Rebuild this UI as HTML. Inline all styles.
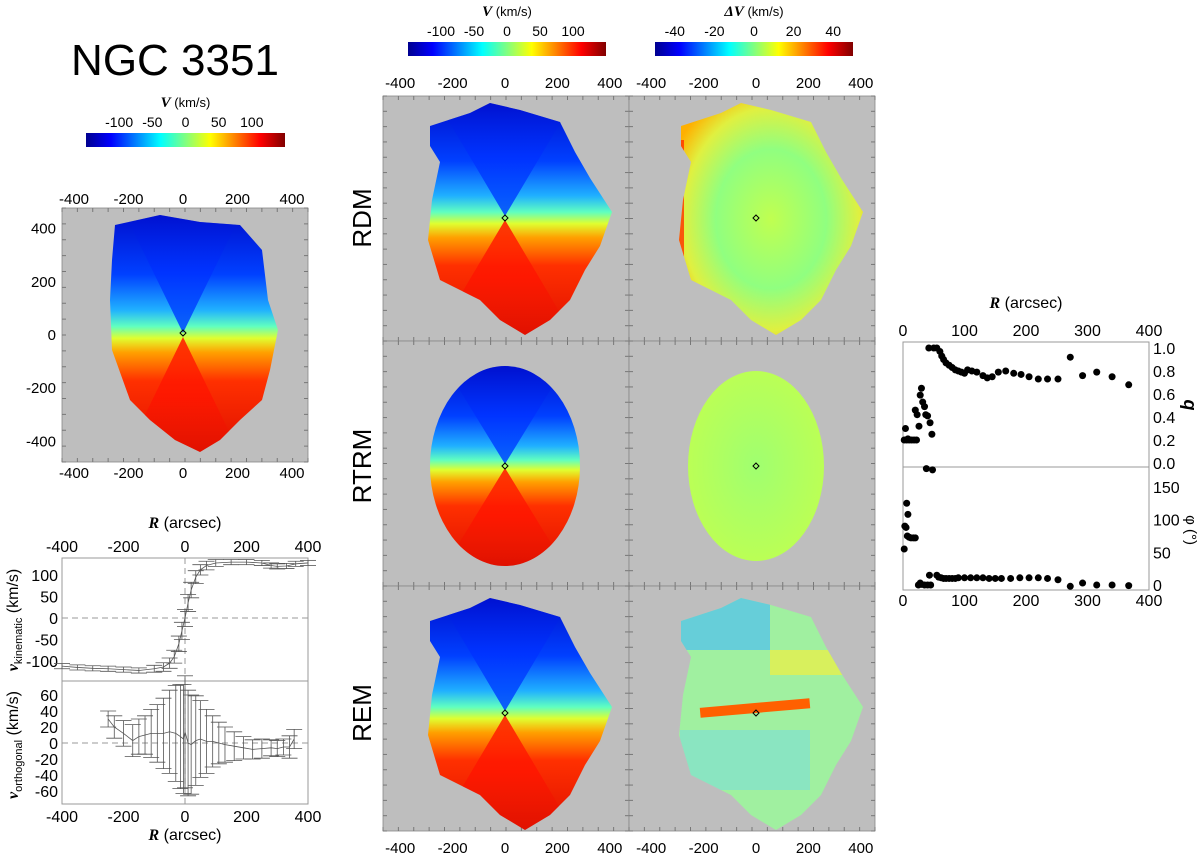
<!DOCTYPE html>
<html><head><meta charset="utf-8"><style>
body{margin:0;background:#fff;font-family:"Liberation Sans",sans-serif}
svg text{font-family:"Liberation Sans",sans-serif}
</style></head><body>
<svg id="s" width="1200" height="863" xmlns="http://www.w3.org/2000/svg">
<defs>
<linearGradient id="jet" x1="0" x2="1" y1="0" y2="0">
<stop offset="0" stop-color="#00008f"/><stop offset="0.125" stop-color="#0000ff"/><stop offset="0.375" stop-color="#00ffff"/><stop offset="0.5" stop-color="#80ff80"/><stop offset="0.625" stop-color="#ffff00"/><stop offset="0.875" stop-color="#ff0000"/><stop offset="1" stop-color="#800000"/>
</linearGradient>
<linearGradient id="vel" x1="0" x2="0" y1="0" y2="1">
<stop offset="0" stop-color="#0010d0"/><stop offset="0.25" stop-color="#0040ff"/><stop offset="0.4" stop-color="#20b0ff"/><stop offset="0.47" stop-color="#60ffc0"/><stop offset="0.52" stop-color="#e0ff30"/><stop offset="0.58" stop-color="#ffa000"/><stop offset="0.7" stop-color="#ff3000"/><stop offset="1" stop-color="#e01000"/>
</linearGradient>
<linearGradient id="blueT" x1="0" x2="0" y1="1" y2="0">
<stop offset="0" stop-color="#0050ff" stop-opacity="0.9"/><stop offset="0.5" stop-color="#0030ff" stop-opacity="0.8"/><stop offset="1" stop-color="#0010d0" stop-opacity="0.3"/>
</linearGradient>
<linearGradient id="redT" x1="0" x2="0" y1="0" y2="1">
<stop offset="0" stop-color="#ff2000" stop-opacity="0.9"/><stop offset="0.5" stop-color="#ff1000" stop-opacity="0.7"/><stop offset="1" stop-color="#e01000" stop-opacity="0.2"/>
</linearGradient>
<radialGradient id="res" cx="0.5" cy="0.5" r="0.6">
<stop offset="0" stop-color="#c0ff50"/><stop offset="0.5" stop-color="#90ff80"/><stop offset="0.8" stop-color="#e0f040"/><stop offset="1" stop-color="#ffb000"/>
</radialGradient>
<radialGradient id="res2" cx="0.5" cy="0.5" r="0.6">
<stop offset="0" stop-color="#a0ff70"/><stop offset="1" stop-color="#c0ff50"/>
</radialGradient>
</defs>
<text x="175" y="75" font-size="44" text-anchor="middle">NGC 3351</text>
<g id="maps"></g>
<g id="prof"></g>
<g id="qphi"></g>
</svg>
<script>
const S=document.getElementById('s');const NS='http://www.w3.org/2000/svg';
function el(t,a,p){const e=document.createElementNS(NS,t);for(const k in a)e.setAttribute(k,a[k]);(p||S).appendChild(e);return e;}
function tx(x,y,s,sz,anc,p){const e=el('text',{x:x,y:y,'font-size':sz||15,'text-anchor':anc||'middle'},p);e.textContent=s;return e;}

// ---------- data ----------
const vkinR=[-400,-350,-300,-250,-200,-150,-100,-70,-50,-35,-20,-10,0,10,20,35,50,70,100,150,200,250,280,300,330,360,400];
const vkinV=[-112,-115,-117,-118,-120,-122,-118,-114,-105,-90,-60,-30,0,35,65,95,112,122,128,130,130,128,122,120,121,126,128];
const vkinE=[6,6,6,6,6,6,8,10,12,15,18,20,20,20,18,15,12,10,8,6,6,6,6,6,6,6,6];
const vorR=[-250,-230,-200,-170,-150,-130,-110,-90,-70,-50,-30,-15,-5,0,10,20,35,50,70,90,110,130,160,190,220,250,280,300,320,340,355];
const vorV=[30,20,12,3,8,10,12,12,12,14,12,8,5,14,0,-2,3,5,2,2,0,-2,-4,-6,-8,-7,-6,-7,-5,-5,5];
const vorE=[10,14,16,20,22,24,30,36,44,52,60,65,68,70,66,62,56,48,40,32,26,22,18,14,12,12,10,10,10,14,12];
const qR=[2,4,6,8,10,14,18,22,20,23,26,28,30,32,35,37,40,44,47,42,50,55,60,63,66,70,75,80,85,90,95,100,105,112,120,130,137,145,155,167,180,192,205,220,235,252,272,292,315,340,367];
const qV=[0.2,0.3,0.2,0.21,0.2,0.2,0.2,0.2,0.46,0.42,0.32,0.59,0.65,0.53,0.49,0.42,0.41,0.35,0.25,1.0,1.0,1.0,0.97,0.93,0.9,0.87,0.85,0.83,0.81,0.8,0.79,0.78,0.81,0.8,0.79,0.76,0.74,0.75,0.79,0.8,0.78,0.77,0.75,0.73,0.73,0.73,0.92,0.76,0.79,0.75,0.68];
const pR=[2,3,5,7,6,8,10,13,17,20,25,28,30,35,40,45,38,48,43,55,58,62,66,70,75,80,85,90,100,110,120,130,140,150,160,175,190,205,220,235,252,272,292,315,340,367];
const pV=[55,90,88,75,125,108,73,72,72,72,0,3,1,0,0,0,178,176,15,15,12,11,10,10,10,10,10,11,11,11,11,11,10,10,10,10,11,11,11,10,8,-2,3,0,0,-1];
const cbTicks=[-100,-50,0,50,100];const dvTicks=[-40,-20,0,20,40];
const mapTicks=[-400,-200,0,200,400];

// ---------- colorbars ----------
function cbar(x0,x1,y,h,vmax,ticks,label,name){
  const g=el('g',{});
  el('rect',{x:x0,y:y,width:x1-x0,height:h,fill:'url(#jet)'},g);
  ticks.forEach(t=>tx(x0+(t+vmax)/(2*vmax)*(x1-x0),y-6,t,14,'middle',g));
  const l=tx((x0+x1)/2,y-26,'',13,'middle',g);l.innerHTML='<tspan font-family="Liberation Serif" font-weight="bold" font-style="italic" font-size="15">'+label+'</tspan> (km/s)';
}
cbar(86,285,133,14,150,cbTicks,'V','colorbar-left');
cbar(408,606,42,14,150,cbTicks,'V','colorbar-velocity');
cbar(655,853,42,14,50,dvTicks,'ΔV','colorbar-residual');

// ---------- maps ----------
const M=document.getElementById('maps');
function frame(x,y,w,h,name){const r=el('rect',{x:x,y:y,width:w,height:h,fill:'#bebebe',stroke:'#888','stroke-width':0.8},M);
  for(let i=0;i<=16;i++){const xx=x+w*i/16;el('line',{x1:xx,x2:xx,y1:y,y2:y+4,stroke:'#777'},M);el('line',{x1:xx,x2:xx,y1:y+h,y2:y+h-4,stroke:'#777'},M);}
  for(let i=0;i<=16;i++){const yy=y+h*i/16;el('line',{x1:x,x2:x+4,y1:yy,y2:yy,stroke:'#777'},M);el('line',{x1:x+w,x2:x+w-4,y1:yy,y2:yy,stroke:'#777'},M);}
}
const blob=[[-75,-92],[-35,-105],[-15,-115],[15,-108],[55,-96],[70,-66],[85,-40],[107,-6],[95,28],[80,52],[65,82],[45,102],[20,117],[-5,102],[-25,82],[-65,62],[-77,22],[-73,-18],[-65,-56],[-75,-72]];
const blobL=[[-68,-110],[-23,-120],[17,-113],[57,-110],[79,-85],[85,-35],[95,-5],[87,35],[79,65],[57,85],[37,105],[17,117],[-8,105],[-33,85],[-53,65],[-71,15],[-73,-35],[-71,-75]];
let clipN=0;
function poly(cx,cy,pts,fill,name){const p=el('polygon',{points:pts.map(q=>(cx+q[0])+','+(cy+q[1])).join(' '),fill:fill},M);return p;}
function clipGroup(cx,cy,pts){const id='c'+(clipN++);const cp=el('clipPath',{id:id},S.querySelector('defs'));
  if(pts)el('polygon',{points:pts.map(q=>(cx+q[0])+','+(cy+q[1])).join(' ')},cp);else el('ellipse',{cx:cx,cy:cy,rx:75,ry:100},cp);
  return el('g',{'clip-path':'url(#'+id+')'},M);}
function bowtie(cx,cy,pts,top,bot,w){
  const g=clipGroup(cx,cy,pts);
  el('polygon',{points:`${cx},${cy-2} ${cx-w},${cy-top} ${cx+w},${cy-top}`,fill:'url(#blueT)'},g);
  el('polygon',{points:`${cx},${cy+2} ${cx-w},${cy+bot} ${cx+w},${cy+bot}`,fill:'url(#redT)'},g);
}
function diamond(cx,cy){el('polygon',{points:`${cx},${cy-3} ${cx+3},${cy} ${cx},${cy+3} ${cx-3},${cy}`,fill:'none',stroke:'#000','stroke-width':1},M);}
// left map
frame(62,208,246,254,'left-velocity-map');
poly(183,335,blobL,'url(#vel)','observed-velocity-field');bowtie(183,335,blobL,125,125,60);diamond(183,333);
mapTicks.forEach(t=>{tx(183+t*0.2725,204,t,15);tx(183+t*0.2725,478,t,15);tx(56,335-t*0.266+5,t,15,'end');});
// grid
const rows=[96,341,586],cols=[383,629],cx=[505,756],cyy=[218,466,713];
rows.forEach((r,i)=>cols.forEach((c,j)=>frame(c,r,246,245,'map-r'+i+'-c'+j)));
poly(cx[0],cyy[0],blob,'url(#vel)','rdm-velocity');bowtie(cx[0],cyy[0],blob,120,120,70);
poly(cx[1],cyy[0],blob,'url(#res)','rdm-residual');
const g1=clipGroup(cx[1],cyy[0],blob);
el('rect',{x:670,y:140,width:14,height:130,fill:'#ff3000',opacity:0.8},g1);
el('ellipse',{cx:cx[0],cy:cyy[1],rx:75,ry:100,fill:'url(#vel)',},M);bowtie(cx[0],cyy[1],null,100,100,60);
el('ellipse',{cx:cx[1],cy:cyy[1],rx:68,ry:95,fill:'url(#res2)',},M);
poly(cx[0],cyy[2],blob,'url(#vel)','rem-velocity');bowtie(cx[0],cyy[2],blob,120,120,70);
poly(cx[1],cyy[2],blob,'#a0f0a0','rem-residual');
const g3=clipGroup(cx[1],cyy[2],blob);
el('rect',{x:670,y:595,width:100,height:55,fill:'#40b8ff',opacity:0.6},g3);
el('rect',{x:770,y:650,width:90,height:25,fill:'#f0f040',opacity:0.7},g3);
el('rect',{x:700,y:703,width:110,height:10,fill:'#ff6000',transform:'rotate(-5 755 708)'},g3);
el('rect',{x:680,y:730,width:130,height:60,fill:'#60d0ff',opacity:0.35},g3);
cyy.forEach((y,i)=>{diamond(cx[0],y);diamond(cx[1],y);});
const rowNames=['RDM','RTRM','REM'];
rowNames.forEach((n,i)=>{const t=tx(0,0,n,26,'middle',M);t.setAttribute('transform',`translate(371,${cyy[i]}) rotate(-90)`);});
cols.forEach((c,j)=>mapTicks.forEach(t=>{tx(cx[j]+t*0.262,88,t,15,'middle',M);tx(cx[j]+t*0.262,853,t,15,'middle',M);}));

// ---------- profile plot ----------
const P=document.getElementById('prof');
const px=r=>185+r*0.3075;
const py1=v=>618-v*0.43;const py2=v=>743-v*0.8;
el('rect',{x:62,y:558,width:246,height:246,fill:'none',stroke:'#999'},P);
el('line',{x1:62,x2:308,y1:681,y2:681,stroke:'#999'},P);
el('line',{x1:62,x2:308,y1:618,y2:618,stroke:'#999','stroke-dasharray':'6,4'},P);
el('line',{x1:62,x2:308,y1:743,y2:743,stroke:'#999','stroke-dasharray':'6,4'},P);
el('line',{x1:185,x2:185,y1:558,y2:804,stroke:'#999','stroke-dasharray':'6,4'},P);
[-400,-200,0,200,400].forEach(t=>{tx(px(t),552,t,16,'middle',P);tx(px(t),822,t,16,'middle',P);});
[100,50,0,-50,-100].forEach(t=>tx(58,py1(t)+6,t,16,'end',P));
[60,40,20,0,-20,-40,-60].forEach(t=>tx(58,py2(t)+6,t,16,'end',P));
function series(R,V,E,py,name){const g=el('g',{stroke:'#555','stroke-width':0.8,fill:'none'},P);
  el('polyline',{points:R.map((r,i)=>px(r)+','+py(V[i])).join(' ')},g);
  R.forEach((r,i)=>{const x=px(r);el('line',{x1:x,x2:x,y1:py(V[i]-E[i]),y2:py(V[i]+E[i])},g);
    el('line',{x1:x-8,x2:x+8,y1:py(V[i]-E[i]),y2:py(V[i]-E[i])},g);el('line',{x1:x-8,x2:x+8,y1:py(V[i]+E[i]),y2:py(V[i]+E[i])},g);});}
series(vkinR,vkinV,vkinE,py1,'v-kinematic-series');
series(vorR,vorV,vorE,py2,'v-orthogonal-series');
let t1=tx(185,528,'',16,'middle',P);t1.innerHTML='<tspan font-family="Liberation Serif" font-weight="bold" font-style="italic">R</tspan> (arcsec)';
let t2=tx(185,840,'',16,'middle',P);t2.innerHTML='<tspan font-family="Liberation Serif" font-weight="bold" font-style="italic">R</tspan> (arcsec)';
let y1=tx(0,0,'',16,'middle',P);y1.setAttribute('transform','translate(18,620) rotate(-90)');y1.innerHTML='<tspan font-family="Liberation Serif" font-weight="bold" font-style="italic">v</tspan><tspan font-size="11" dy="4">kinematic</tspan><tspan dy="-4"> (km/s)</tspan>';
let y2=tx(0,0,'',16,'middle',P);y2.setAttribute('transform','translate(18,745) rotate(-90)');y2.innerHTML='<tspan font-family="Liberation Serif" font-weight="bold" font-style="italic">v</tspan><tspan font-size="11" dy="4">orthogonal</tspan><tspan dy="-4"> (km/s)</tspan>';

// ---------- q / phi ----------
const Q=document.getElementById('qphi');
const qx=r=>903+r*0.615;const qy=v=>463-v*115;const fy=v=>585-v*0.654;
el('rect',{x:903,y:342,width:246,height:248,fill:'none',stroke:'#999'},Q);
el('line',{x1:903,x2:1149,y1:467,y2:467,stroke:'#999'},Q);
[0,100,200,300,400].forEach(t=>{tx(qx(t),336,t,16,'middle',Q);tx(qx(t),606,t,16,'middle',Q);});
[0,0.2,0.4,0.6,0.8,1.0].forEach(t=>tx(1153,qy(t)+6,t.toFixed(1),16,'start',Q));
[0,50,100,150].forEach(t=>tx(1153,fy(t)+6,t,16,'start',Q));
let rt=tx(1026,308,'',16,'middle',Q);rt.innerHTML='<tspan font-family="Liberation Serif" font-weight="bold" font-style="italic">R</tspan> (arcsec)';
let ql=tx(0,0,'q',18,'middle',Q);ql.setAttribute('transform','translate(1184,405) rotate(90)');ql.setAttribute('font-family','Liberation Serif');ql.setAttribute('font-weight','bold');ql.setAttribute('font-style','italic');
let fl=tx(0,0,'φ (°)',15,'middle',Q);fl.setAttribute('transform','translate(1186,530) rotate(90)');
const gq=el('g',{fill:'#000'},Q);
qR.forEach((r,i)=>el('circle',{cx:qx(r),cy:Math.max(342,qy(qV[i])),r:3.5},gq));
const gp=el('g',{fill:'#000'},Q);
pR.forEach((r,i)=>el('circle',{cx:qx(r),cy:Math.min(590,fy(pV[i])),r:3.5},gp));
</script>
</body></html>
